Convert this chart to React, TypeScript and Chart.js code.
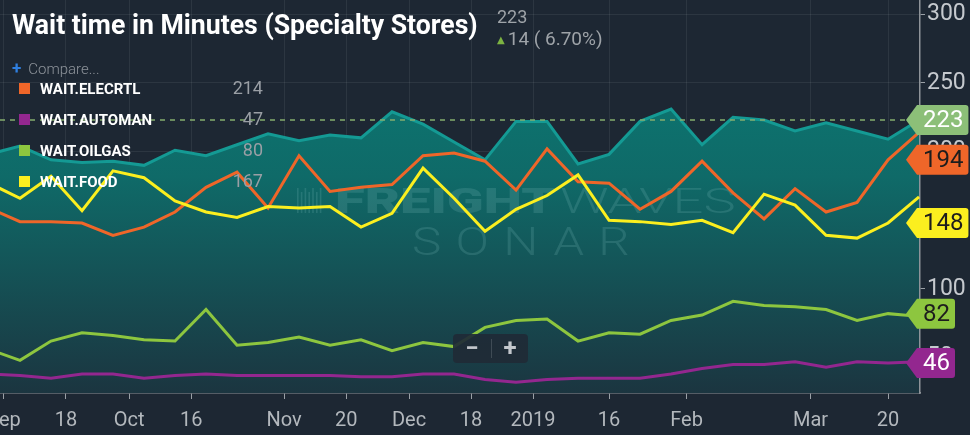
import React, { useEffect, useRef } from "react";
import { Chart, registerables } from "chart.js";

Chart.register(...registerables);

// Weekly observations; the first value is the week just left of the visible window
const waitTotal = [198, 204, 194, 192, 193, 190, 201, 197, 205, 213, 208, 212, 210, 229, 220, 207, 194, 222, 222, 191, 198, 222, 231, 205, 225, 223, 215, 221, 215, 209, 223];
const waitElecrtl = [159, 149, 149, 148, 139, 145, 156, 174, 185, 159, 197, 171, 174, 176, 197, 199, 193, 172, 202, 178, 177, 158, 171, 193, 170, 151, 173, 156, 163, 194, 214];
const waitFood = [177, 166, 182, 157, 186, 181, 164, 156, 152, 160, 159, 160, 145, 155, 188, 166, 142, 158, 168, 183, 150, 149, 147, 150, 141, 169, 161, 139, 137, 148, 167];
const waitOilgas = [56, 48, 62, 68, 66, 63, 62, 85, 59, 61, 65, 59, 63, 55, 61, 58, 72, 77, 78, 62, 68, 67, 77, 81, 91, 88, 87, 85, 77, 82, 80];
const waitAutoman = [38, 37, 35, 38, 38, 35, 37, 38, 37, 37, 37, 37, 36, 36, 38, 38, 34, 32, 34, 35, 35, 35, 38, 42, 45, 45, 47, 43, 47, 46, 47];

// x-axis tick labels and the week index they sit at
const xTickLabels = ["Sep", "18", "Oct", "16", "Nov", "20", "Dec", "18", "2019", "16", "Feb", "Mar", "20"];
const xTickWeeks = [0.48, 2.48, 4.52, 6.52, 9.52, 11.52, 13.55, 15.55, 17.55, 20, 22.5, 26.5, 29];
const yTickValues = [50, 100, 150, 200, 250, 300];

// legend
const legendNames = ["WAIT.ELECRTL", "WAIT.AUTOMAN", "WAIT.OILGAS", "WAIT.FOOD"];
const legendValues = [214, 47, 80, 167];

// right-axis value tags: total, elecrtl, food, oilgas, automan
const tagValues = [223, 194, 148, 82, 46];
const referenceValue = 223;
const headerValue = "223";
const headerChange = "14 ( 6.70%)";

const BG = "#1d2733";
const C_TEAL = "#149a94";
const C_ORANGE = "#ef6629";
const C_YELLOW = "#fbef1f";
const C_GREEN = "#8dc63f";
const C_PURPLE = "#93278f";
const legendColors = [C_ORANGE, C_PURPLE, C_GREEN, C_YELLOW];
const tagFill = ["#8cbf78", C_ORANGE, C_YELLOW, C_GREEN, C_PURPLE];
const tagText = ["#ffffff", "#1d1d1d", "#1d1d1d", "#1d1d1d", "#ffffff"];

const toPoints = (arr: number[]) => arr.map((v, i) => ({ x: i, y: v }));

const bgPlugin = {
  id: "bg",
  beforeDraw(chart: any) {
    const { ctx, width, height } = chart;
    ctx.save();
    ctx.fillStyle = BG;
    ctx.fillRect(0, 0, width, height);
    ctx.restore();
  },
};

const watermarkPlugin = {
  id: "watermark",
  afterDatasetDraw(chart: any, args: any) {
    if (args.index !== 0) return;
    const { ctx, chartArea } = chart;
    ctx.save();
    ctx.beginPath();
    ctx.rect(chartArea.left, chartArea.top, chartArea.right - chartArea.left, chartArea.bottom - chartArea.top);
    ctx.clip();
    ctx.textBaseline = "alphabetic";
    ctx.fillStyle = "rgba(150, 210, 210, 0.17)";
    // barcode mark
    for (let i = 0; i < 7; i++) {
      ctx.fillRect(297 + i * 3.8, 188 + (i % 2) * 4, 1.6, 25 - (i % 2) * 4);
    }
    ctx.save();
    ctx.translate(335, 213);
    ctx.scale(1.55, 1);
    ctx.font = "900 35px Roboto";
    ctx.fillText("FREIGHT", 0, 0);
    const w = ctx.measureText("FREIGHT").width;
    ctx.font = "300 35px Roboto";
    ctx.fillText("WAVES", w + 3, 0);
    ctx.restore();
    ctx.save();
    ctx.translate(412, 255);
    ctx.scale(1.3, 1);
    ctx.font = "300 38px Roboto";
    (ctx as any).letterSpacing = "11px";
    ctx.fillText("SONAR", 0, 0);
    ctx.restore();
    ctx.restore();
  },
};

const refLinePlugin = {
  id: "refline",
  afterDatasetsDraw(chart: any) {
    const { ctx, chartArea, scales } = chart;
    const y = scales.y.getPixelForValue(referenceValue);
    ctx.save();
    ctx.strokeStyle = "#84ad6e";
    ctx.lineWidth = 1.3;
    ctx.setLineDash([5, 5]);
    ctx.beginPath();
    ctx.moveTo(chartArea.left, y);
    ctx.lineTo(chartArea.right, y);
    ctx.stroke();
    ctx.restore();
  },
};

const tagsPlugin = {
  id: "tags",
  afterDraw(chart: any) {
    const { ctx, chartArea, scales } = chart;
    const axisX = chartArea.right;
    ctx.save();
    ctx.font = "24px Roboto";
    ctx.textBaseline = "middle";
    ctx.textAlign = "left";
    tagValues.forEach((v, i) => {
      const yc = scales.y.getPixelForValue(v);
      const label = String(v);
      const tw = ctx.measureText(label).width;
      const tip = axisX - 14;
      const sh = axisX - 3;
      const right = axisX + 4 + tw + 4;
      const h = 15;
      const r = 3;
      ctx.beginPath();
      ctx.moveTo(tip, yc);
      ctx.lineTo(sh, yc - h);
      ctx.lineTo(right - r, yc - h);
      ctx.quadraticCurveTo(right, yc - h, right, yc - h + r);
      ctx.lineTo(right, yc + h - r);
      ctx.quadraticCurveTo(right, yc + h, right - r, yc + h);
      ctx.lineTo(sh, yc + h);
      ctx.closePath();
      ctx.fillStyle = tagFill[i];
      ctx.fill();
      ctx.fillStyle = tagText[i];
      ctx.fillText(label, axisX + 3, yc + 1);
    });
    ctx.restore();
  },
};

export default function App() {
  const canvasRef = useRef<HTMLCanvasElement | null>(null);
  const titleRef = useRef<HTMLSpanElement | null>(null);

  useEffect(() => {
    document.body.style.margin = "0";
    document.body.style.background = BG;
    if (titleRef.current) {
      const w = titleRef.current.offsetWidth;
      if (w > 0) titleRef.current.style.transform = `scaleX(${466 / w})`;
    }
    const canvas = canvasRef.current;
    if (!canvas) return;
    const gridColor = "rgba(255,255,255,0.07)";
    const chart = new Chart(canvas, {
      type: "line",
      data: {
        datasets: [
          {
            label: "WAIT",
            data: toPoints(waitTotal),
            borderColor: C_TEAL,
            borderWidth: 3,
            pointRadius: 0,
            fill: "start",
            order: 5,
            backgroundColor: (c: any) => {
              const { chart } = c;
              const area = chart.chartArea;
              if (!area) return "#0f6d6a";
              const g = chart.ctx.createLinearGradient(0, area.top, 0, area.bottom);
              g.addColorStop(0, "#0a7e77");
              g.addColorStop(0.45, "#0f6a68");
              g.addColorStop(1, "#1b3540");
              return g;
            },
          },
          { label: legendNames[0], data: toPoints(waitElecrtl), borderColor: C_ORANGE, borderWidth: 3, pointRadius: 0, order: 3 },
          { label: legendNames[3], data: toPoints(waitFood), borderColor: C_YELLOW, borderWidth: 3, pointRadius: 0, order: 2 },
          { label: legendNames[2], data: toPoints(waitOilgas), borderColor: C_GREEN, borderWidth: 3, pointRadius: 0, order: 4 },
          { label: legendNames[1], data: toPoints(waitAutoman), borderColor: C_PURPLE, borderWidth: 3, pointRadius: 0, order: 4 },
        ],
      },
      options: {
        animation: false,
        responsive: false,
        events: [],
        layout: { padding: 0 },
        plugins: { legend: { display: false }, tooltip: { enabled: false } },
        scales: {
          x: {
            type: "linear",
            min: 0.355,
            max: 30.03,
            afterBuildTicks: (scale: any) => {
              scale.ticks = xTickWeeks.map((v) => ({ value: v }));
            },
            afterFit: (scale: any) => {
              scale.height = 42;
              scale.paddingLeft = 0;
              scale.paddingRight = 0;
            },
            ticks: {
              autoSkip: false,
              maxRotation: 0,
              color: "#b3b8bd",
              font: { family: "Roboto", size: 20 },
              padding: 10,
              callback: (_v: any, i: number) => xTickLabels[i],
            },
            grid: { color: gridColor, tickColor: "#9aa0a6", tickLength: 6, lineWidth: 1 },
            border: { color: "#8e9399", width: 1.5 },
          },
          y: {
            type: "linear",
            position: "right",
            min: 24.2,
            max: 310.4,
            afterBuildTicks: (scale: any) => {
              scale.ticks = yTickValues.map((v) => ({ value: v }));
            },
            afterFit: (scale: any) => {
              scale.width = 50;
              scale.paddingTop = 0;
              scale.paddingBottom = 0;
            },
            ticks: {
              color: "#c5c9ce",
              font: { family: "Roboto", size: 23 },
              padding: 2,
              callback: (v: any) => String(v),
            },
            grid: { color: gridColor, tickColor: "#9aa0a6", tickLength: 5 },
            border: { color: "#8e9399", width: 1.5 },
          },
        },
      },
      plugins: [bgPlugin, watermarkPlugin, refLinePlugin, tagsPlugin],
    } as any);
    return () => chart.destroy();
  }, []);

  const rowTops = [89, 120, 151, 182];

  return (
    <div style={{ position: "fixed", left: 0, top: 0, width: 970, height: 435, background: BG, overflow: "hidden", fontFamily: "Roboto, sans-serif" }}>
      <canvas ref={canvasRef} width={970} height={435} style={{ position: "absolute", left: 0, top: 0, width: 970, height: 435 }} />
      <div style={{ position: "absolute", left: 12, top: 11, height: 28, lineHeight: "28px", whiteSpace: "nowrap" }}>
        <span ref={titleRef} style={{ display: "inline-block", fontSize: 28, fontWeight: 700, color: "#ffffff", transformOrigin: "left center" }}>
          Wait time in Minutes (Specialty Stores)
        </span>
      </div>
      <div style={{ position: "absolute", left: 497, top: 7, fontSize: 18, lineHeight: "20px", color: "#9ea3a8" }}>{headerValue}</div>
      <div style={{ position: "absolute", left: 497, top: 29, fontSize: 19, lineHeight: "20px", color: "#9ea3a8", whiteSpace: "nowrap" }}>
        <span style={{ color: "#7cb342", fontSize: 10, fontFamily: "DejaVu Sans", marginRight: 3, position: "relative", top: -2 }}>▲</span>
        {headerChange}
      </div>
      <div style={{ position: "absolute", left: 12, top: 59, fontSize: 15, lineHeight: "18px", color: "#8d939a", fontWeight: 300, whiteSpace: "nowrap" }}>
        <span style={{ color: "#2f7fe0", fontWeight: 700, fontSize: 17, marginRight: 7 }}>+</span>
        Compare...
      </div>
      {legendNames.map((n, i) => (
        <div key={n} style={{ position: "absolute", left: 0, top: rowTops[i] - 10, height: 20, width: 270 }}>
          <div style={{ position: "absolute", left: 19, top: 4, width: 11, height: 11, background: legendColors[i] }} />
          <div style={{ position: "absolute", left: 40, top: 0, lineHeight: "20px", fontSize: 15, fontWeight: 700, color: "#ffffff", whiteSpace: "nowrap" }}>{n}</div>
          <div style={{ position: "absolute", right: 7, top: -1, lineHeight: "20px", fontSize: 18, color: "#9a9fa5" }}>{legendValues[i]}</div>
        </div>
      ))}
      <div style={{ position: "absolute", left: 453, top: 334, width: 75, height: 29, background: "rgba(31,42,54,0.92)", borderRadius: 4 }}>
        <div style={{ position: "absolute", left: 0, width: 38, top: 0, lineHeight: "28px", textAlign: "center", color: "#c3c7cc", fontSize: 24, fontWeight: 700 }}>−</div>
        <div style={{ position: "absolute", left: 38, top: 5, width: 1, height: 19, background: "rgba(255,255,255,0.15)" }} />
        <div style={{ position: "absolute", left: 39, width: 36, top: 0, lineHeight: "28px", textAlign: "center", color: "#c3c7cc", fontSize: 24, fontWeight: 700 }}>+</div>
      </div>
    </div>
  );
}
